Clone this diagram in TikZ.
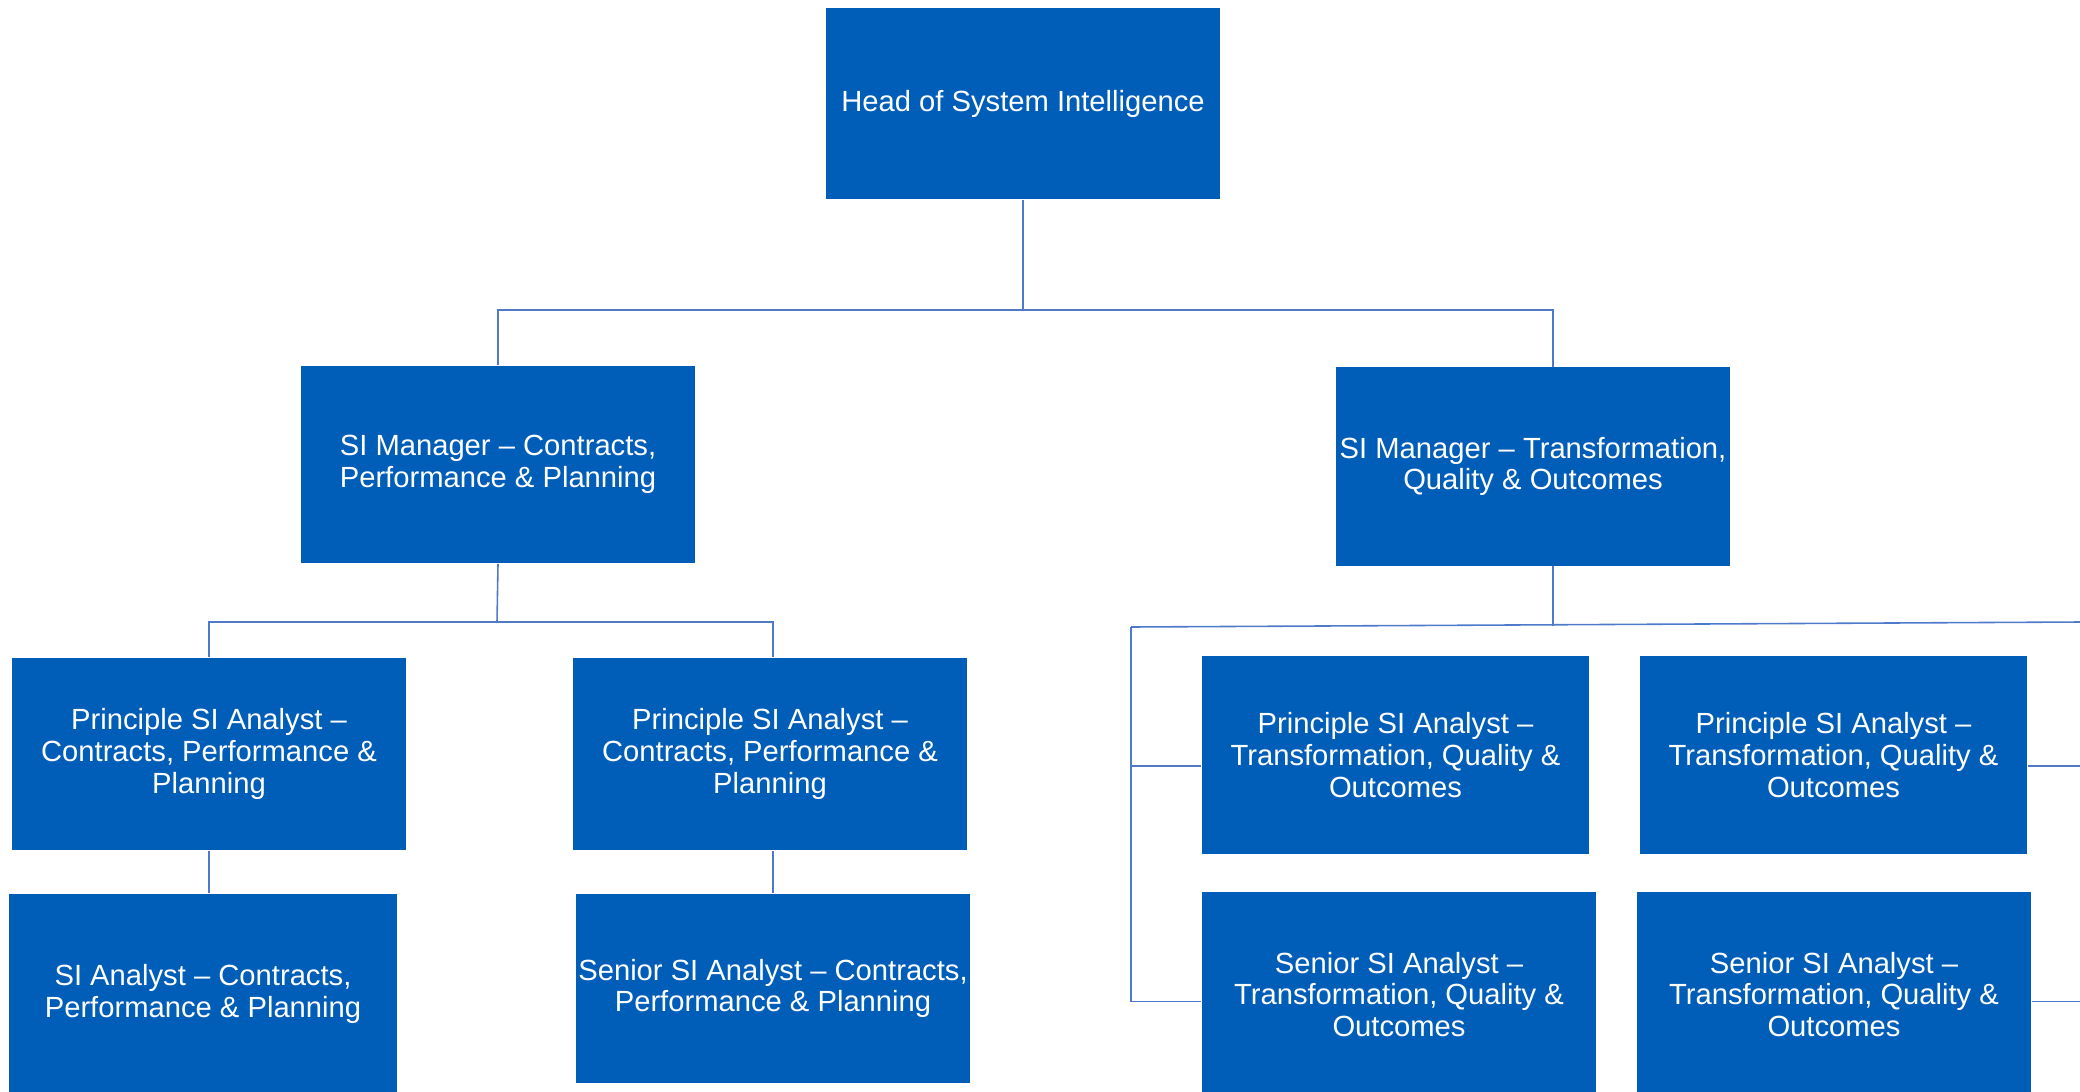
\documentclass[tikz,border=0pt]{standalone}
\usepackage{fontspec}
\setmainfont{Liberation Sans}
\definecolor{siblue}{HTML}{005EB8}
\definecolor{linkblue}{HTML}{4F7ACB}
\tikzset{
  >=latex,
  post/.style={fill=siblue,text=white,inner sep=0pt,align=center,
    minimum width=3.94cm,minimum height=1.92cm,
    font=\fontsize{8.3}{9.05}\selectfont},
  link/.style={draw=linkblue,line width=0.45pt},
}

\begin{document}
\begin{tikzpicture}[x=0.01cm,y=-0.01cm]
    \clip (0,0) rectangle (2080,1091);
    % head and managers
    \node[post,minimum height=1.91cm] (head) at (1023,103.5) {Head of System Intelligence};
    \node[post,minimum height=1.97cm] (mgrL) at (498,464.5) {SI Manager -- Contracts,\\Performance \& Planning};
    \node[post,minimum height=1.98cm] (mgrR) at (1533,466.5) {SI Manager -- Transformation,\\Quality \& Outcomes};
    % contracts, performance & planning
    \node[post] (psaL1) at (209,754) {Principle SI Analyst --\\Contracts, Performance \&\\Planning};
    \node[post] (psaL2) at (770,754) {Principle SI Analyst --\\Contracts, Performance \&\\Planning};
    \node[post,minimum width=3.88cm,minimum height=2cm] (siaL) at (203,994) {SI Analyst -- Contracts,\\Performance \& Planning};
    \node[post,minimum height=1.89cm] (snrL) at (773,988.5) {Senior SI Analyst -- Contracts,\\Performance \& Planning};
    % transformation, quality & outcomes
    \node[post,minimum width=3.87cm,minimum height=1.98cm] (psaR1) at (1395.5,755) {Principle SI Analyst --\\Transformation, Quality \&\\Outcomes};
    \node[post,minimum width=3.87cm,minimum height=1.98cm] (psaR2) at (1833.5,755) {Principle SI Analyst --\\Transformation, Quality \&\\Outcomes};
    \node[post,minimum height=2.05cm] (snrR1) at (1399,994.5) {Senior SI Analyst --\\Transformation, Quality \&\\Outcomes};
    \node[post,minimum height=2.05cm] (snrR2) at (1834,994.5) {Senior SI Analyst --\\Transformation, Quality \&\\Outcomes};

    \coordinate (busTop) at (1023,310);
    \coordinate (busL) at (497,622);
    \coordinate (busRw) at (1131,627);
    \coordinate (busRe) at (2080,622);
    \begin{scope}[link]
      \draw (head.south) -- (busTop);
      \draw (mgrL.north) |- (busTop) -| ([shift={(20,0)}]mgrR.north);
      \draw (mgrL.south) -- (busL);
      \draw (psaL1.north) |- (busL) -| (snrL.north |- psaL2.north);
      \draw (psaL1) -- (siaL.north -| psaL1);
      \draw (snrL.north |- psaL2.south) -- (snrL.north);
      \draw ([shift={(20,0)}]mgrR.south) -- ++(0,60);
      \draw (busRw) -- (busRe);
      \draw (busRw) |- ([shift={(0,11)}]psaR1.west);
      \draw (busRw) |- ([shift={(0,7)}]snrR1.west);
      \draw ([shift={(0,11)}]psaR2.east) -- ++(80,0);
      \draw ([shift={(0,7)}]snrR2.east) -- ++(80,0);
    \end{scope}
\end{tikzpicture}
\end{document}
